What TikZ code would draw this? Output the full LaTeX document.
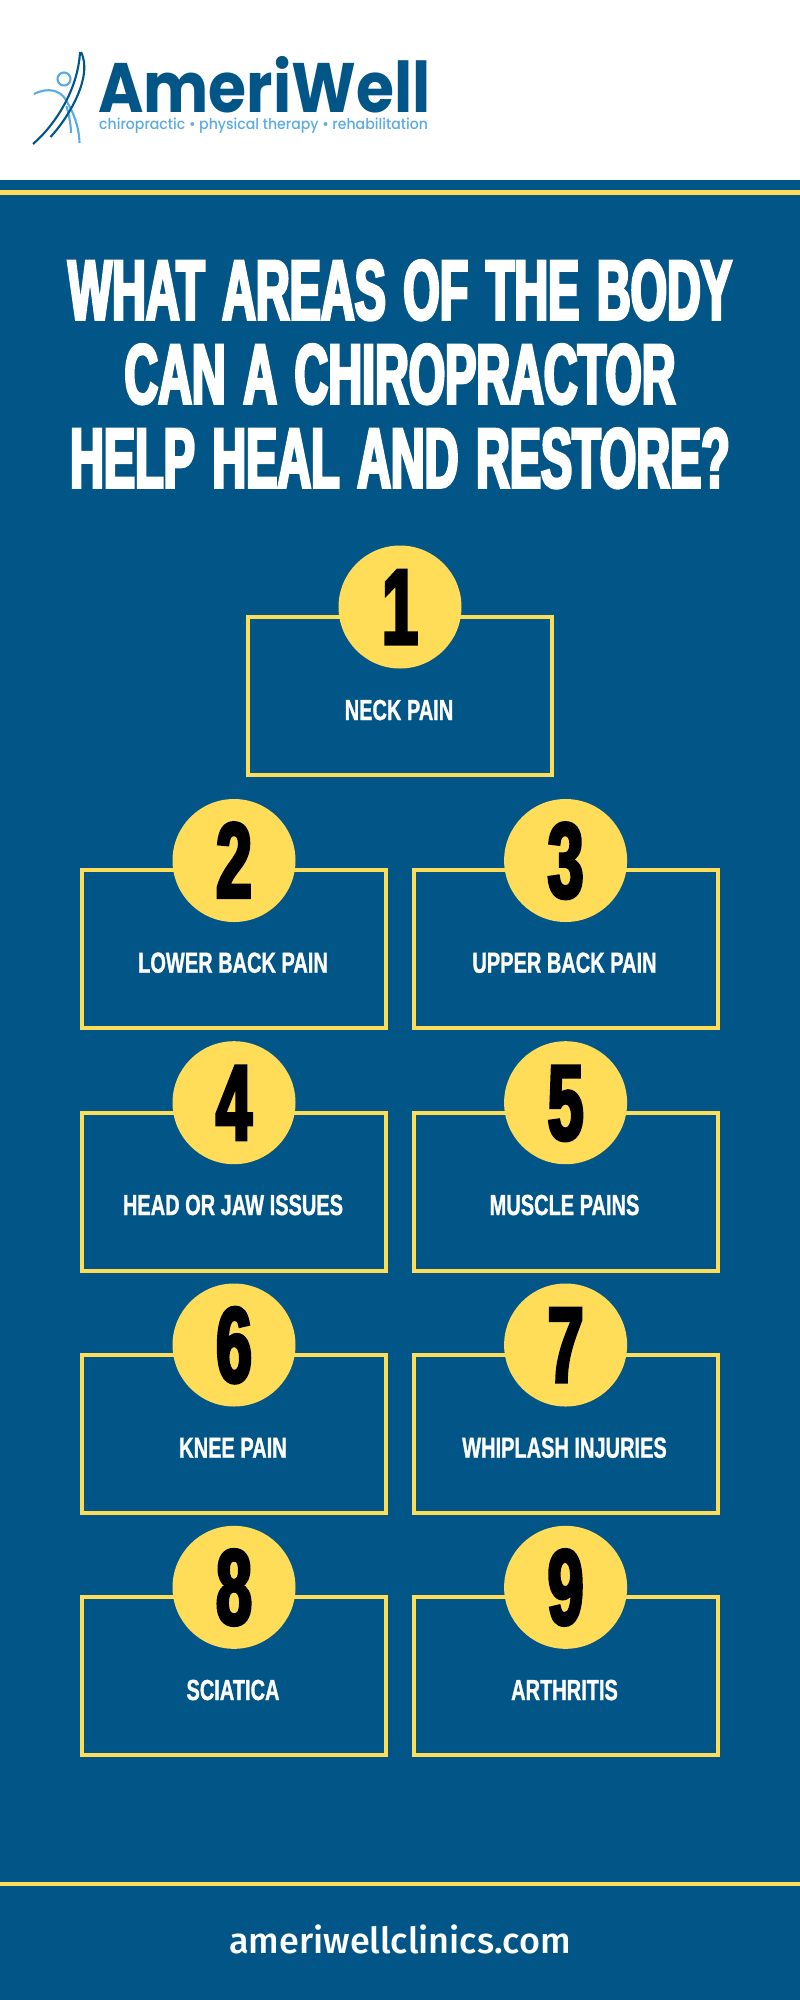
\documentclass[tikz,border=0pt]{standalone}
\usepackage{fontspec}
\setmainfont{Liberation Sans}
\newfontfamily\titlefont[FakeStretch=0.55,FakeBold=3.2,WordSpace=1.35]{Liberation Sans Bold}
\newfontfamily\numfont[FakeStretch=0.6,FakeBold=3.2]{Liberation Sans Bold}
\newfontfamily\painfont[FakeStretch=0.69,FakeBold=1]{Liberation Sans Bold}
\newfontfamily\brandfont[FakeStretch=0.88]{Poppins Bold}
\newfontfamily\tagfont[FakeStretch=0.94]{Poppins Medium}
\newfontfamily\webfont{Fira Sans Medium}
\definecolor{ameriblue}{HTML}{025587}
\definecolor{ameriyellow}{HTML}{FFDD59}
\definecolor{amerisky}{HTML}{5AABE2}
\tikzset{
    painbox/.style={draw=ameriyellow,line width=4pt,minimum width=304pt,minimum height=158pt,inner sep=0pt},
    numcircle/.style={circle,fill=ameriyellow,text=black,inner sep=0pt,minimum size=123pt,font=\numfont\fontsize{107}{107}\selectfont,text height=74pt,text depth=0pt},
    painlabel/.style={anchor=base,text=white,inner sep=0pt,font=\painfont\fontsize{29}{29}\selectfont},
    titleline/.style={anchor=base,text=white,inner sep=0pt,font=\titlefont\fontsize{85}{85}\selectfont},
    skyline/.style={draw=amerisky,line width=2.1pt},
    darkline/.style={draw=ameriblue,line width=2.1pt}
}
\begin{document}
\begin{tikzpicture}[x=1pt,y=-1pt]
    \useasboundingbox (0,0) rectangle (800,2000);
    \fill[ameriblue] (0,180) rectangle (800,2000);
    \fill[ameriyellow] (0,190) rectangle (800,195);
    \fill[ameriyellow] (0,1882) rectangle (800,1886);

    \draw[skyline] (64,79) circle (6.5);
    \draw[skyline] (34,94) .. controls (48,87) and (60,90) .. (66,100) .. controls (73,112) and (79,125) .. (79.5,143);
    \draw[skyline] (66.5,106) .. controls (69,115) and (71,125) .. (71,133);
    \draw[darkline] (33,144) .. controls (55,125) and (78,90) .. (80,52);
    \draw[darkline] (50.5,137) .. controls (68,118) and (85,88) .. (84.3,66) .. controls (84,60) and (83,56) .. (81,52);
    \node[anchor=base west,inner sep=0pt,text=ameriblue,text depth=0pt,font=\brandfont\fontsize{70}{70}\selectfont] (brand) at (98,112.7) {AmeriWell};
    \node[anchor=base west,inner sep=0pt,text=amerisky,font=\tagfont\fontsize{15}{15}\selectfont] (tag) at (99,129) {chiropractic • physical therapy • rehabilitation};

    \node[titleline] (title1) at (400,319.5) {WHAT AREAS OF THE BODY};
    \node[titleline] (title2) at (400,403.5) {CAN A CHIROPRACTOR};
    \node[titleline] (title3) at (400,487.5) {HELP HEAL AND RESTORE?};

    \node[painbox] (box1) at (400,696) {};
    \node[painbox] (box2) at (234,949.2) {};
    \node[painbox] (box3) at (565.8,949.2) {};
    \node[painbox] (box4) at (234,1191.5) {};
    \node[painbox] (box5) at (565.8,1191.5) {};
    \node[painbox] (box6) at (234,1433.7) {};
    \node[painbox] (box7) at (565.8,1433.7) {};
    \node[painbox] (box8) at (234,1675.9) {};
    \node[painbox] (box9) at (565.8,1675.9) {};

    \node[numcircle] (num1) at (400,607) {1};
    \node[numcircle] (num2) at (234,860.5) {2};
    \node[numcircle] (num3) at (565.6,860.5) {3};
    \node[numcircle] (num4) at (234,1102.7) {4};
    \node[numcircle] (num5) at (565.6,1102.7) {5};
    \node[numcircle] (num6) at (234,1345) {6};
    \node[numcircle] (num7) at (565.6,1345) {7};
    \node[numcircle] (num8) at (234,1587.3) {8};
    \node[numcircle] (num9) at (565.6,1587.3) {9};

    \node[painlabel] (pain1) at (399,720) {NECK PAIN};
    \node[painlabel] (pain2) at (233,972.7) {LOWER BACK PAIN};
    \node[painlabel] (pain3) at (564.5,972.7) {UPPER BACK PAIN};
    \node[painlabel] (pain4) at (233,1215) {HEAD OR JAW ISSUES};
    \node[painlabel] (pain5) at (564.5,1215) {MUSCLE PAINS};
    \node[painlabel] (pain6) at (233,1457.7) {KNEE PAIN};
    \node[painlabel] (pain7) at (564.5,1457.7) {WHIPLASH INJURIES};
    \node[painlabel] (pain8) at (233,1700) {SCIATICA};
    \node[painlabel] (pain9) at (564.5,1700) {ARTHRITIS};

    \node[anchor=base,inner sep=0pt,text=white,font=\webfont\fontsize{36}{36}\selectfont] (web) at (400,1953) {ameriwellclinics.com};
\end{tikzpicture}
\end{document}
